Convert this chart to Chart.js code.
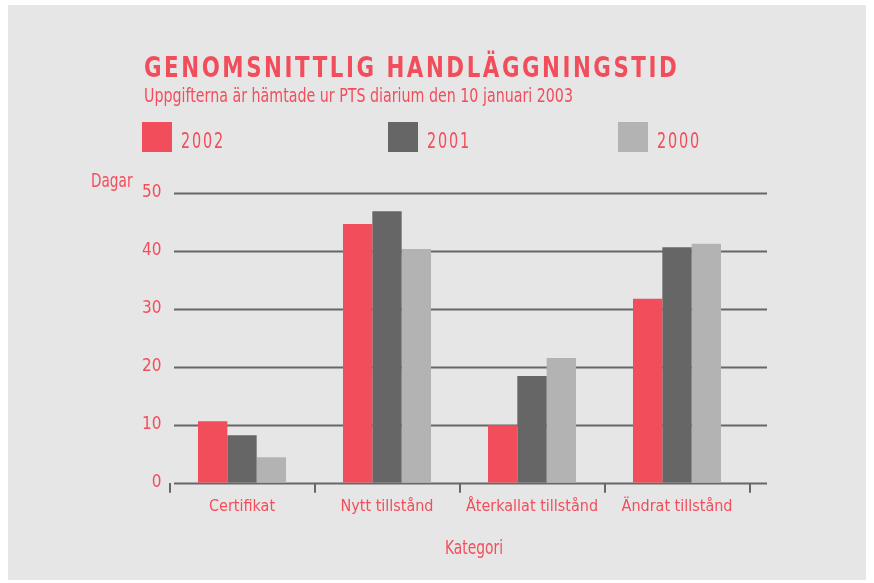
<!DOCTYPE html>
<html>
<head>
<meta charset="utf-8">
<script src="https://cdn.jsdelivr.net/npm/chart.js@4.4.1/dist/chart.umd.min.js"></script>
<style>
    html, body { margin: 0; padding: 0; background: #ffffff; }
    #wrap { position: relative; width: 874px; height: 583px; overflow: hidden; }
    #panel { position: absolute; left: 8px; top: 5px; width: 858px; height: 575px; background: #e6e6e6; }
    #box { position: absolute; left: 0; top: 0; width: 874px; height: 583px; }
    .txt { position: absolute; color: #f24d5b; font-family: "DejaVu Sans Condensed", "Liberation Sans Narrow", sans-serif; line-height: 1; white-space: nowrap; transform-origin: 0 0; }
    #title { left: 144px; top: 53.6px; font-size: 28px; font-weight: bold; letter-spacing: 3px; }
    #subtitle { left: 144px; top: 85.6px; font-size: 19px; }
    #dagar { left: 91px; top: 170px; font-size: 20px; }
    #kategori { left: 445px; top: 537px; font-size: 20px; }
    .lg-box { position: absolute; width: 30px; height: 30px; }
    .lg-txt { font-size: 21px; letter-spacing: 2.4px; }
</style>
</head>
<body>
<div id="wrap">
    <div id="panel"></div>
    <div id="box"><canvas id="myChart"></canvas></div>
    <div class="txt" id="title" data-w="535">GENOMSNITTLIG HANDLÄGGNINGSTID</div>
    <div class="txt" id="subtitle" data-w="429">Uppgifterna är hämtade ur PTS diarium den 10 januari 2003</div>
    <div class="txt" id="dagar" data-w="41.5">Dagar</div>
    <div class="txt" id="kategori" data-w="58">Kategori</div>
    <div id="legend"></div>
</div>
<script>
    var categories = ['Certifikat', 'Nytt tillstånd', 'Återkallat tillstånd', 'Ändrat tillstånd'];
    var seriesNames = ['2002', '2001', '2000'];
    var values2002 = [10.6, 44.6, 9.9, 31.7];
    var values2001 = [8.2, 46.8, 18.4, 40.6];
    var values2000 = [4.4, 40.3, 21.5, 41.2];
    var yTicks = [0, 10, 20, 30, 40, 50];

    var colors = ['#f24d5b', '#666666', '#b3b3b3'];
    var red = '#f24d5b';
    var font = '"DejaVu Sans Condensed", "Liberation Sans Narrow", sans-serif';

    // legend in html, one item per series
    var legendLeft = [142, 388, 618];
    var legend = document.getElementById('legend');
    seriesNames.forEach(function (name, i) {
        var b = document.createElement('div');
        b.className = 'lg-box';
        b.style.left = legendLeft[i] + 'px';
        b.style.top = '121.5px';
        b.style.background = colors[i];
        legend.appendChild(b);
        var t = document.createElement('div');
        t.className = 'txt lg-txt';
        t.style.left = (legendLeft[i] + 39) + 'px';
        t.style.top = '131px';
        t.setAttribute('data-w', '44');
        t.textContent = name;
        legend.appendChild(t);
    });

    // the original face is narrower, squeeze the html text to its width
    document.querySelectorAll('[data-w]').forEach(function (el) {
        var w = parseFloat(el.getAttribute('data-w'));
        var k = w / el.getBoundingClientRect().width;
        el.style.transform = 'scaleX(' + k.toFixed(3) + ')';
    });

    // horizontal lines run a bit wider than the category band
    var gridPlugin = {
        id: 'wideGrid',
        beforeDatasetsDraw: function (chart) {
            var ctx = chart.ctx;
            var y = chart.scales.y;
            ctx.save();
            ctx.strokeStyle = '#676767';
            ctx.lineWidth = 2;
            yTicks.forEach(function (v) {
                var py = Math.round(y.getPixelForValue(v)) + 0.5;
                ctx.beginPath();
                ctx.moveTo(174, py);
                ctx.lineTo(767, py);
                ctx.stroke();
            });
            ctx.restore();
        }
    };

    var series = [values2002, values2001, values2000];
    var datasets = [];
    for (var i = 0; i < seriesNames.length; i++) {
        datasets.push({
            label: seriesNames[i],
            data: series[i],
            backgroundColor: colors[i],
            borderWidth: 0,
            categoryPercentage: 0.607,
            barPercentage: 1.0
        });
    }

    var ctx = document.getElementById('myChart');
    var myChart = new Chart(ctx, {
        type: 'bar',
        data: { labels: categories, datasets: datasets },
        plugins: [gridPlugin],
        options: {
            responsive: true,
            maintainAspectRatio: false,
            devicePixelRatio: 1,
            animation: false,
            layout: { padding: { left: 100, right: 124.5, top: 192.7, bottom: 0 } },
            plugins: {
                legend: { display: false },
                title: { display: false },
                tooltip: { enabled: false }
            },
            scales: {
                x: {
                    afterFit: function (scale) { scale.height = 100.3; },
                    border: { display: false },
                    grid: {
                        offset: true,
                        drawOnChartArea: false,
                        drawTicks: true,
                        tickLength: 10,
                        color: '#676767',
                        lineWidth: 2
                    },
                    ticks: {
                        color: red,
                        padding: 5,
                        maxRotation: 0,
                        autoSkip: false,
                        font: { family: font, size: 16 }
                    }
                },
                y: {
                    min: 0,
                    max: 50,
                    afterFit: function (scale) { scale.width = 69.5; },
                    afterBuildTicks: function (scale) {
                        scale.ticks = yTicks.map(function (v) { return { value: v }; });
                    },
                    border: { display: false },
                    grid: { display: false, drawTicks: false },
                    ticks: {
                        color: red,
                        padding: 8,
                        font: { family: font, size: 17 }
                    }
                }
            }
        }
    });
</script>
</body>
</html>
